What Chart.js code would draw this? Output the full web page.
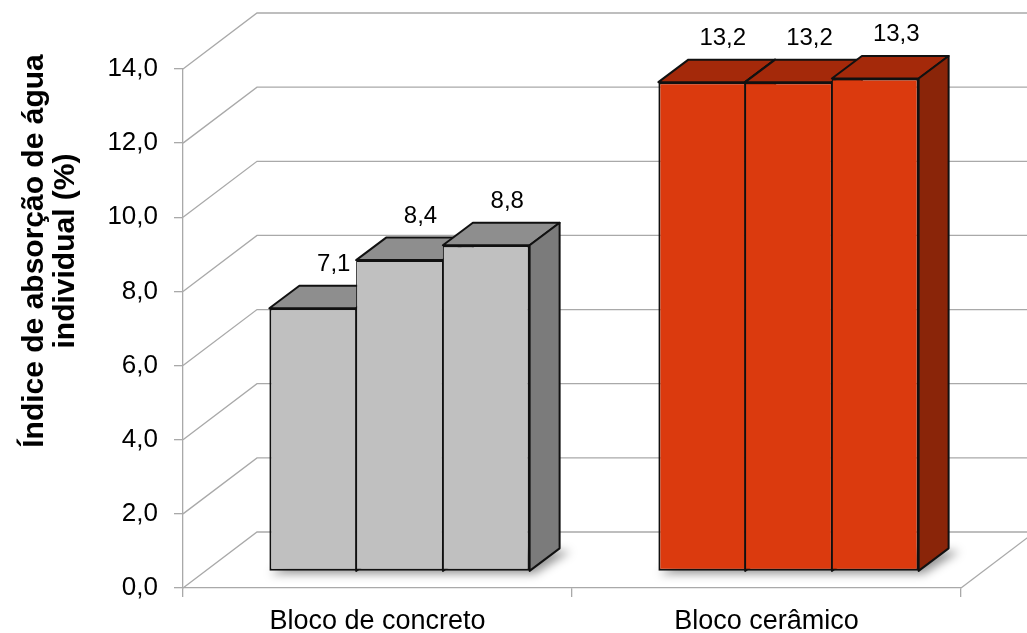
<!DOCTYPE html>
<html>
<head>
<meta charset="utf-8">
<script src="https://cdn.jsdelivr.net/npm/chart.js@4.4.0/dist/chart.umd.min.js"></script>
<style>
  html, body { margin: 0; padding: 0; background: #ffffff; }
  #wrap { width: 1027px; height: 633px; }
</style>
</head>
<body>
<div id="wrap"><canvas id="chart" width="1027" height="633"></canvas></div>
<script>
// ---- data ----
const categories = ['Bloco de concreto', 'Bloco cerâmico'];
const block1 = [7.1, 13.2];
const block2 = [8.4, 13.2];
const block3 = [8.8, 13.3];
const yTickLabels = ['0,0', '2,0', '4,0', '6,0', '8,0', '10,0', '12,0', '14,0'];
const yTitleLines = ['Índice de absorção de água', 'individual (%)'];

// ---- styling ----
const FONT = "'Liberation Sans', Arial, sans-serif";
const frontColors = ['#c0c0c0', '#db3a0e'];
const topColors = ['#8e8e8e', '#a4290a'];
const sideColors = ['#7b7b7b', '#8a2509'];
const EDGE = '#111111';
const GRID = '#a9a9a9';

// oblique depth: floor/back wall offset, bar front offset and bar depth
const depth = { wallDx: 74, wallDy: -56, frontDx: 22, frontDy: -16.5, barDx: 30, barDy: -22.5 };

const fmt = v => v.toFixed(1).replace('.', ',');

function barRect(el) {
  const p = el.getProps(['x', 'y', 'base', 'width'], true);
  const l = p.x - p.width / 2 + depth.frontDx;
  const r = p.x + p.width / 2 + depth.frontDx;
  return { l, r, t: p.y + depth.frontDy, b: p.base + depth.frontDy, cx: p.x + depth.frontDx };
}

function poly(ctx, pts, fill) {
  ctx.beginPath();
  ctx.moveTo(pts[0][0], pts[0][1]);
  for (let i = 1; i < pts.length; i++) ctx.lineTo(pts[i][0], pts[i][1]);
  ctx.closePath();
  if (fill) { ctx.fillStyle = fill; ctx.fill(); }
}

const scene3d = {
  id: 'scene3d',
  beforeDatasetsDraw(chart) {
    const { ctx, chartArea: a, scales: { y } } = chart;
    const { wallDx, wallDy, barDx, barDy } = depth;

    // back wall gridlines and their run along the side wall
    ctx.save();
    ctx.strokeStyle = GRID;
    ctx.lineWidth = 1.3;
    y.ticks.forEach(t => {
      const py = y.getPixelForValue(t.value);
      ctx.beginPath();
      ctx.moveTo(a.left, py);
      ctx.lineTo(a.left + wallDx, py + wallDy);
      ctx.lineTo(chart.width + 5, py + wallDy);
      ctx.stroke();
    });
    // right edge of the floor
    ctx.beginPath();
    ctx.moveTo(a.right, a.bottom);
    ctx.lineTo(a.right + wallDx, a.bottom + wallDy);
    ctx.stroke();
    ctx.restore();

    const metas = chart.data.datasets.map((d, i) => chart.getDatasetMeta(i));

    // soft shadow on the floor under each group
    ctx.save();
    ctx.filter = 'blur(5px)';
    categories.forEach((c, i) => {
      const first = barRect(metas[0].data[i]);
      const last = barRect(metas[metas.length - 1].data[i]);
      const ox = 5, oy = 3;
      poly(ctx, [
        [first.l - 4 + ox, first.b + oy],
        [last.r + ox, last.b + oy],
        [last.r + barDx + ox + 6, last.b + barDy + oy],
        [first.l + barDx + ox, first.b + barDy + oy]
      ], 'rgba(0,0,0,0.42)');
    });
    ctx.restore();

    // top and side faces, left to right
    ctx.save();
    ctx.strokeStyle = EDGE;
    ctx.lineWidth = 2;
    ctx.lineJoin = 'round';
    categories.forEach((c, i) => {
      metas.forEach(m => {
        const r = barRect(m.data[i]);
        poly(ctx, [[r.l, r.t], [r.r, r.t], [r.r + barDx, r.t + barDy], [r.l + barDx, r.t + barDy]], topColors[i]);
        ctx.stroke();
        poly(ctx, [[r.r, r.t], [r.r + barDx, r.t + barDy], [r.r + barDx, r.b + barDy], [r.r, r.b]], sideColors[i]);
        ctx.stroke();
      });
    });
    ctx.restore();

    // front faces are drawn by the bar elements, pushed into depth
    ctx.save();
    ctx.translate(depth.frontDx, depth.frontDy);
  },
  afterDatasetsDraw(chart) {
    const { ctx } = chart;
    ctx.restore();

    // value labels above each bar
    ctx.save();
    ctx.fillStyle = '#000';
    ctx.font = `24px ${FONT}`;
    ctx.textAlign = 'center';
    ctx.textBaseline = 'middle';
    chart.data.datasets.forEach((ds, di) => {
      const meta = chart.getDatasetMeta(di);
      meta.data.forEach((el, i) => {
        const r = barRect(el);
        ctx.fillText(fmt(ds.data[i]), r.cx + 21, r.t - 44);
      });
    });
    ctx.restore();
  },
  afterDraw(chart) {
    // two-line rotated value-axis title
    const { ctx } = chart;
    ctx.save();
    ctx.fillStyle = '#000';
    ctx.font = `bold 30px ${FONT}`;
    ctx.textAlign = 'center';
    ctx.textBaseline = 'alphabetic';
    const baselines = [43, 74];
    yTitleLines.forEach((line, k) => {
      ctx.save();
      ctx.translate(baselines[k], 251);
      ctx.rotate(-Math.PI / 2);
      ctx.fillText(line, 0, 0);
      ctx.restore();
    });
    ctx.restore();
  }
};

const borderFor = idx => ({
  top: 2, bottom: 2,
  left: idx === 0 ? 2 : 1,
  right: idx === 2 ? 2 : 1
});

const mkDataset = (label, data, idx) => ({
  label,
  data,
  backgroundColor: frontColors,
  borderColor: EDGE,
  borderWidth: borderFor(idx),
  borderSkipped: false,
  clip: false
});

new Chart(document.getElementById('chart'), {
  type: 'bar',
  data: {
    labels: categories,
    datasets: [
      mkDataset('1', block1, 0),
      mkDataset('2', block2, 1),
      mkDataset('3', block3, 2)
    ]
  },
  options: {
    responsive: false,
    animation: false,
    devicePixelRatio: 1,
    categoryPercentage: 0.669,
    barPercentage: 1.0,
    layout: { padding: { top: 69, right: 66, left: 0, bottom: 0 } },
    plugins: { legend: { display: false }, tooltip: { enabled: false } },
    scales: {
      x: {
        grid: { offset: true, drawOnChartArea: false, color: GRID, tickLength: 9, lineWidth: 1.3 },
        border: { color: GRID, width: 1.3 },
        ticks: { color: '#000', font: { family: FONT, size: 27 }, padding: 8, maxRotation: 0, autoSkip: false },
        afterFit(s) { s.height = 45; }
      },
      y: {
        min: 0, max: 14,
        grid: { drawOnChartArea: false, color: GRID, tickLength: 9, lineWidth: 1.3 },
        border: { color: GRID, width: 1.3 },
        ticks: {
          stepSize: 2,
          color: '#000',
          font: { family: FONT, size: 26 },
          padding: 16,
          callback: v => yTickLabels[Math.round(v / 2)]
        },
        afterFit(s) { s.width = 183; }
      }
    }
  },
  plugins: [scene3d]
});
</script>
</body>
</html>
